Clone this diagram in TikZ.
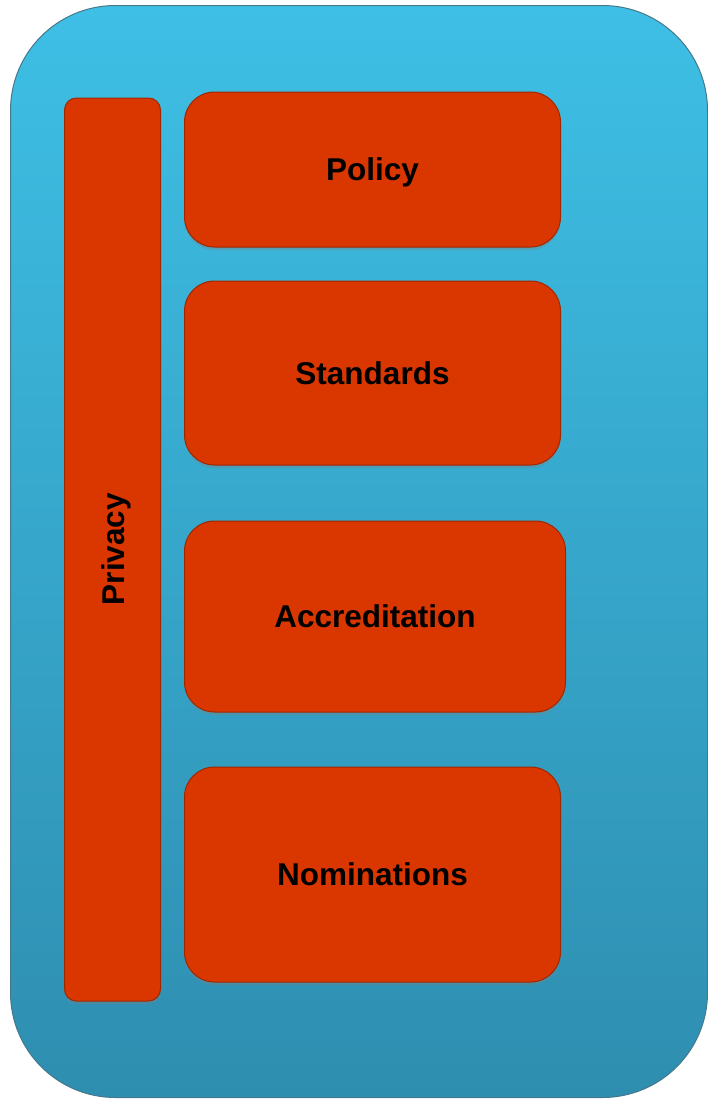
\documentclass[tikz,border=0pt]{standalone}
\usepackage{fontspec}
\setmainfont{Liberation Sans}
\usetikzlibrary{shadows}
\definecolor{bluetop}{RGB}{62,191,229}
\definecolor{bluebot}{RGB}{46,142,176}
\definecolor{boxfill}{RGB}{217,54,0}
\definecolor{boxedge}{RGB}{160,40,0}
\definecolor{outeredge}{RGB}{70,120,140}
\tikzset{
  obox/.style={draw=boxedge, line width=1pt, fill=boxfill, rounded corners=30pt,
    inner sep=0pt, font=\fontsize{31.5}{36}\selectfont\bfseries, text=black,
    text height=22.5pt, text depth=0pt,
    drop shadow={shadow xshift=0pt, shadow yshift=-3pt, opacity=0.35}},
  pbox/.style={obox, rounded corners=12pt},
}
\begin{document}
\begin{tikzpicture}[x=1pt,y=-1pt]
\useasboundingbox (0,0) rectangle (708,1100);
\shade[top color=bluetop, bottom color=bluebot, draw=outeredge, line width=1pt, rounded corners=105pt]
  (10.5,5.5) rectangle (707.5,1097.5);
\node[pbox, minimum width=96pt, minimum height=903pt] (privacy) at (112.5,549.5) {};
\node[rotate=90, font=\fontsize{31.5}{36}\selectfont\bfseries, text height=22.5pt, text depth=0pt] (privlabel) at (113,549) {Privacy};
\node[obox, minimum width=376pt, minimum height=155pt] (policy) at (372.5,169.5) {Policy};
\node[obox, minimum width=376pt, minimum height=184pt] (standards) at (372.5,373) {Standards};
\node[obox, minimum width=381pt, minimum height=191pt] (accreditation) at (375,616.5) {Accreditation};
\node[obox, minimum width=376pt, minimum height=215pt] (nominations) at (372.5,874.5) {Nominations};
\end{tikzpicture}
\end{document}
